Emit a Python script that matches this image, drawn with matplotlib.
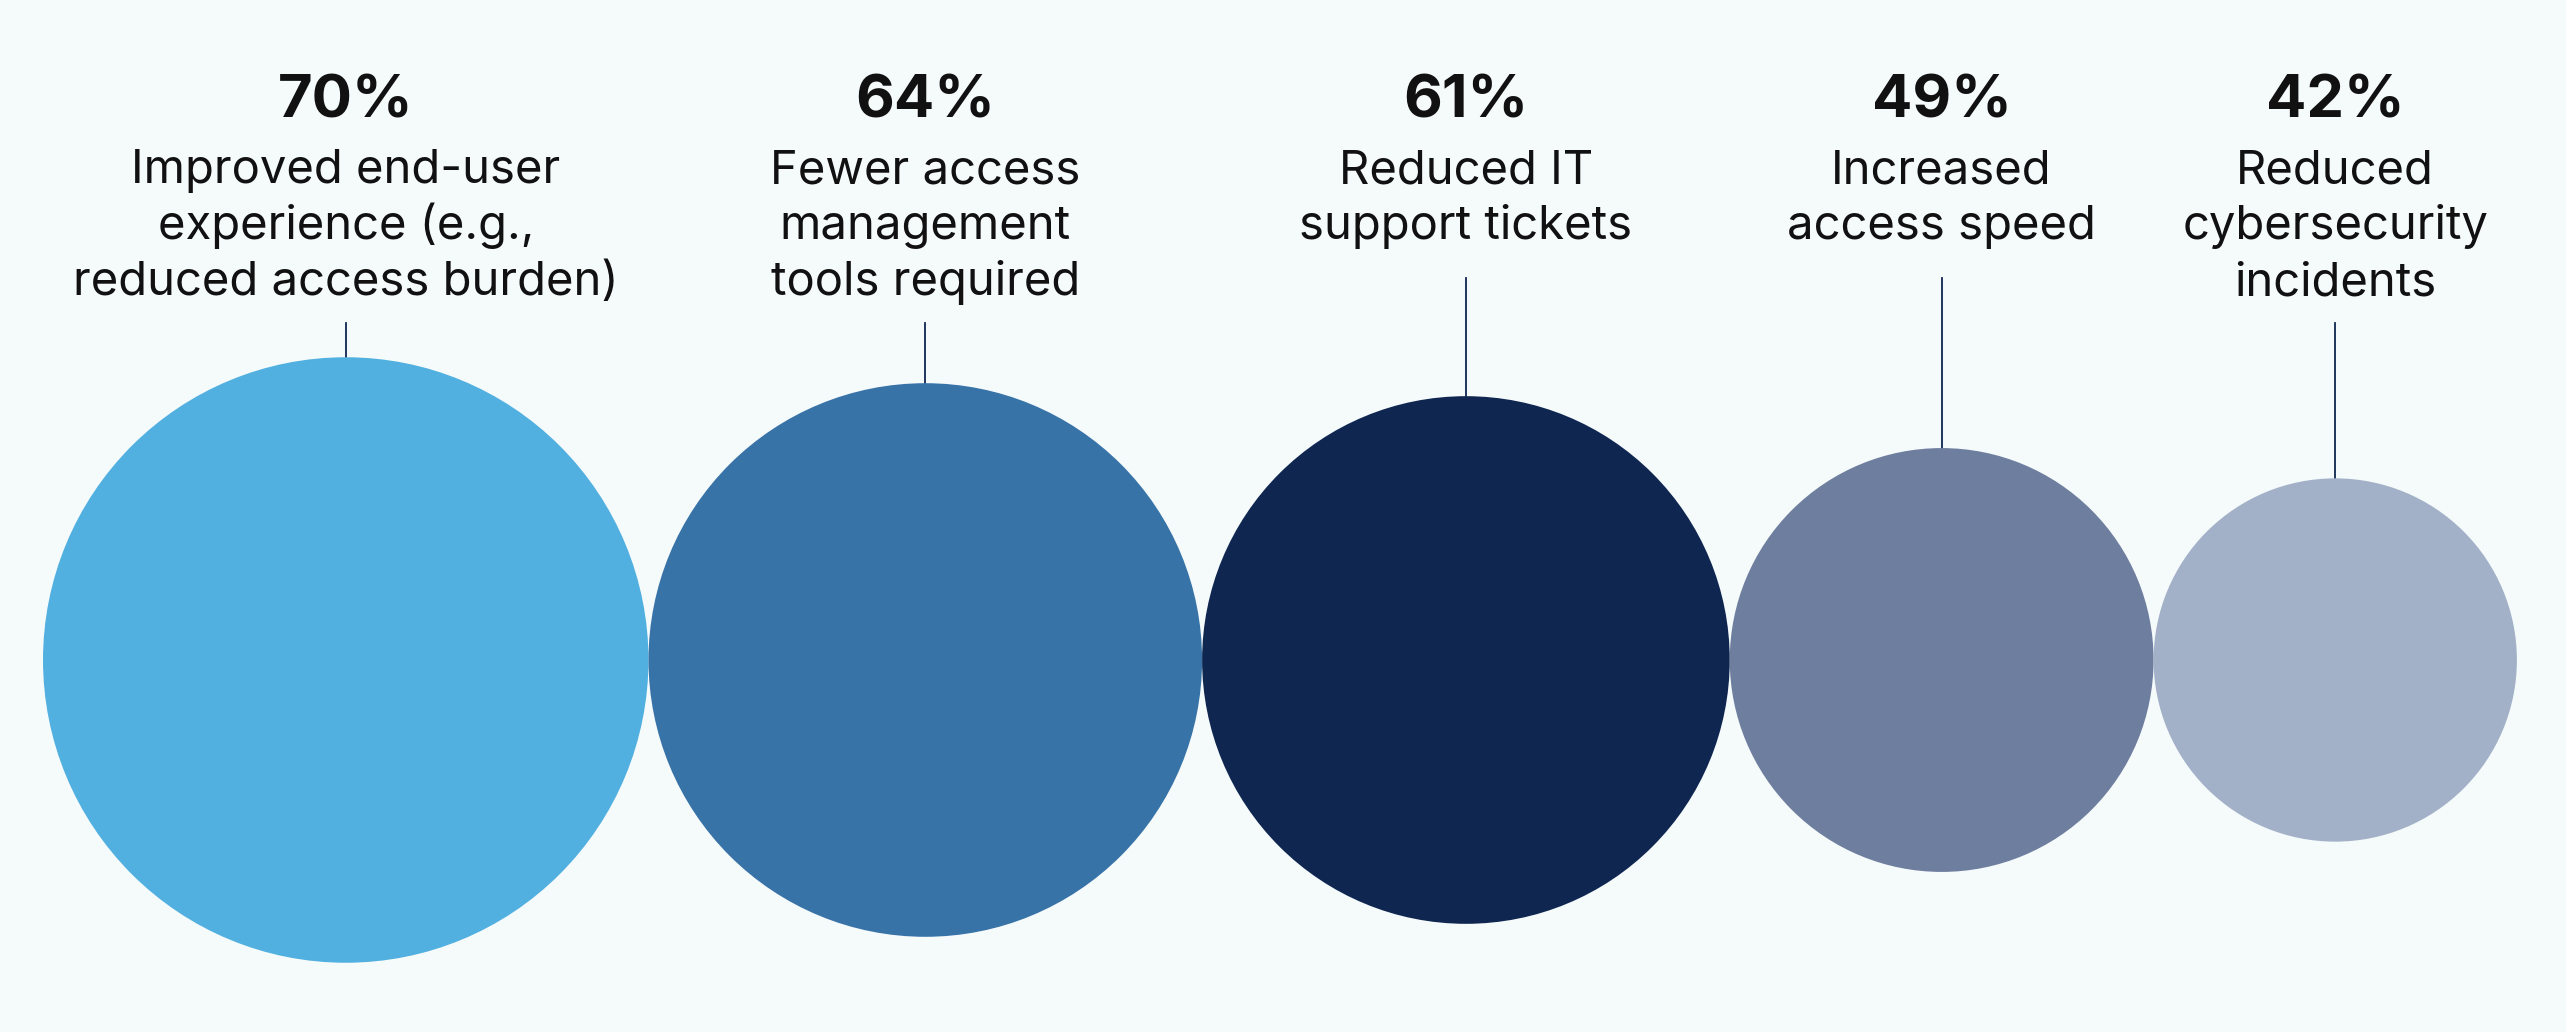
import numpy as np
import matplotlib.pyplot as plt
from matplotlib.patches import Circle

plt.rcParams['font.family'] = ['Inter', 'DejaVu Sans']

values = [70, 64, 61, 49, 42]
pct_labels = ['70%', '64%', '61%', '49%', '42%']
labels = [
    ['Improved end-user', 'experience (e.g.,', 'reduced access burden)'],
    ['Fewer access', 'management', 'tools required'],
    ['Reduced IT', 'support tickets'],
    ['Increased', 'access speed'],
    ['Reduced', 'cybersecurity', 'incidents'],
]
colors = ['#51B0E0', '#3873A8', '#0F2650', '#6E7E9E', '#A3B1C8']

W, H = 2566, 1032
BG = '#F5FAFB'
SCALE = 4.325       # px of radius per percentage point
LEFT = 43
CY = 660
PCT_Y = 117
LBL_Y = 183
LINE_H = 56

fig = plt.figure(figsize=(W / 100, H / 100), dpi=100, facecolor=BG)
ax = fig.add_axes([0, 0, 1, 1])
ax.set_xlim(0, W)
ax.set_ylim(H, 0)
ax.set_aspect('equal')
ax.axis('off')
ax.set_facecolor(BG)

radii = np.array(values) * SCALE
x = LEFT
for v, r, pct, lab, c in zip(values, radii, pct_labels, labels, colors):
    cx = x + r
    x += 2 * r
    ax.add_patch(Circle((cx, CY), r, facecolor=c, edgecolor='none', zorder=2))
    ax.text(cx, PCT_Y, pct, ha='center', va='baseline', fontsize=43,
            fontweight='bold', color='#111111')
    for i, line in enumerate(lab):
        ax.text(cx, LBL_Y + i * LINE_H, line, ha='center', va='baseline',
                fontsize=34, color='#111111')
    top = LBL_Y + (len(lab) - 1) * LINE_H + (28 if len(lab) == 3 else 39)
    ax.plot([cx, cx], [top, CY - r], color='#0F2650', lw=1.3, zorder=1)

fig.savefig('out.png', dpi=100, facecolor=BG)
